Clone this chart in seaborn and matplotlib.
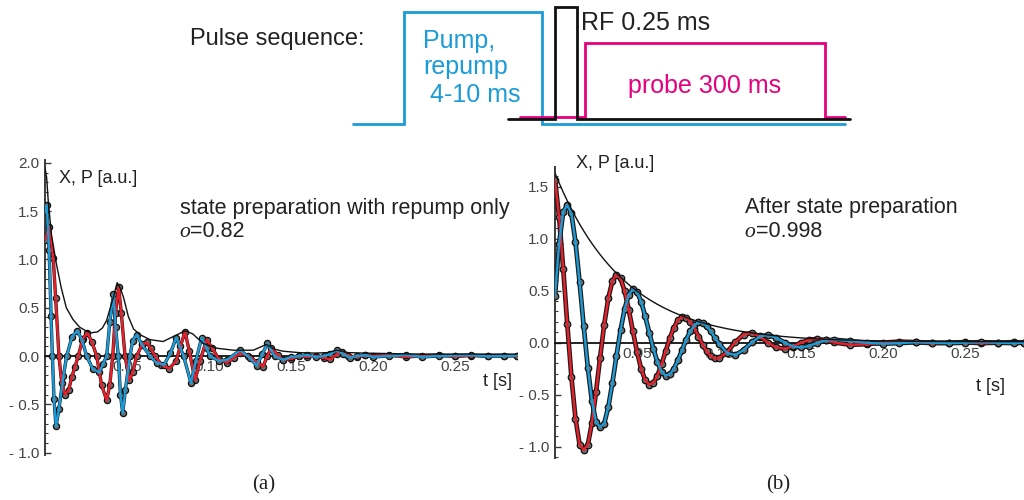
import numpy as np
import pandas as pd
import matplotlib
matplotlib.use("Agg")
import matplotlib.pyplot as plt
import seaborn as sns
from matplotlib.ticker import FuncFormatter, MultipleLocator

sns.set_theme(style="white")
plt.rcParams['font.family'] = ['Liberation Sans', 'DejaVu Sans']

# ---------------- data: panel (a) -- state preparation with repump only ----------------
tL_x = [0, 0.0025, 0.005, 0.0065, 0.0085, 0.0102, 0.0122, 0.0145, 0.0163, 0.0183,
        0.0203, 0.023, 0.0258, 0.0285, 0.0315, 0.0345, 0.0376, 0.0395, 0.0413, 0.043,
        0.0449, 0.0465, 0.0488, 0.0514, 0.0535, 0.0559, 0.059, 0.062, 0.0645, 0.067,
        0.071, 0.0758, 0.080, 0.0825, 0.0854, 0.088, 0.0915, 0.0945, 0.0986, 0.102,
        0.106, 0.111, 0.115, 0.119, 0.124, 0.129, 0.133, 0.1355, 0.138, 0.142,
        0.145, 0.15, 0.155, 0.16, 0.165, 0.17, 0.174, 0.178, 0.181, 0.185,
        0.19, 0.195, 0.20, 0.21, 0.22, 0.23, 0.24, 0.25, 0.26, 0.27, 0.28, 0.288]
xL = [1.2, 1.34, 1.02, 0.6, 0.0, -0.28, -0.40, -0.35, -0.22, -0.11,
      0.0, 0.18, 0.24, 0.15, 0.0, -0.30, -0.46, -0.30, 0.0, 0.45,
      0.71, 0.45, 0.0, -0.25, -0.17, 0.0, 0.11, 0.14, 0.08, 0.0,
      -0.09, -0.13, -0.05, 0.10, 0.25, 0.05, -0.25, -0.05, 0.17, 0.08,
      -0.03, -0.07, -0.02, 0.03, 0.0, -0.06, -0.11, 0.0, 0.08, 0.01,
      -0.04, -0.03, 0.0, -0.01, 0.0, -0.02, -0.035, 0.02, 0.04, 0.0,
      -0.01, 0.01, 0.0, 0.01, -0.01, 0.0, 0.01, -0.005, 0.005, 0.0, 0.005, 0.0]

tL_p = [0, 0.001, 0.0025, 0.0037, 0.0045, 0.0055, 0.0067, 0.0085, 0.0112, 0.0132,
        0.0165, 0.0197, 0.0225, 0.0254, 0.029, 0.0331, 0.0355, 0.0376, 0.0395, 0.0417,
        0.043, 0.0447, 0.046, 0.0474, 0.049, 0.0518, 0.0535, 0.0559, 0.059, 0.064,
        0.068, 0.0726, 0.0765, 0.080, 0.0845, 0.089, 0.092, 0.0955, 0.0985, 0.1006,
        0.106, 0.111, 0.119, 0.125, 0.129, 0.1325, 0.1356, 0.140, 0.145, 0.15,
        0.155, 0.16, 0.165, 0.17, 0.174, 0.178, 0.182, 0.186, 0.19, 0.195,
        0.20, 0.21, 0.22, 0.23, 0.24, 0.25, 0.26, 0.27, 0.28, 0.288]
pL = [1.5, 1.56, 1.1, 0.41, 0.0, -0.45, -0.73, -0.55, -0.21, 0.0,
      0.2, 0.26, 0.17, 0.0, -0.13, -0.17, -0.08, 0.0, 0.35, 0.64,
      0.3, 0.0, -0.4, -0.59, -0.35, 0.0, 0.16, 0.22, 0.12, 0.0,
      -0.07, -0.09, 0.03, 0.19, 0.0, -0.28, -0.05, 0.19, 0.08, 0.0,
      -0.05, -0.04, 0.06, -0.02, -0.10, 0.02, 0.13, 0.0, -0.04, -0.01,
      0.0, 0.01, -0.01, 0.0, 0.02, 0.06, 0.02, -0.02, 0.0, 0.01,
      -0.01, 0.0, 0.01, -0.01, 0.0, 0.005, 0.01, -0.005, 0.0, 0.005]

tL_e = [0, 0.001, 0.002, 0.004, 0.007, 0.010, 0.013, 0.017, 0.021, 0.025,
        0.028, 0.032, 0.035, 0.0376, 0.0417, 0.044, 0.046, 0.048, 0.0508, 0.054,
        0.058, 0.064, 0.072, 0.078, 0.0854, 0.090, 0.0965, 0.105, 0.115, 0.127,
        0.135, 0.140, 0.145, 0.155, 0.165, 0.172, 0.178, 0.185, 0.195, 0.21,
        0.23, 0.25, 0.27, 0.288]
eL = [1.95, 1.85, 1.6, 1.25, 0.95, 0.7, 0.5, 0.38, 0.30, 0.26,
      0.24, 0.25, 0.29, 0.37, 0.61, 0.76, 0.7, 0.6, 0.41, 0.28,
      0.22, 0.17, 0.15, 0.2, 0.26, 0.23, 0.13, 0.08, 0.06, 0.06,
      0.12, 0.07, 0.05, 0.035, 0.03, 0.035, 0.06, 0.035, 0.03, 0.025,
      0.02, 0.02, 0.02, 0.02]

# ---------------- data: panel (b) -- after state preparation ----------------
tR = [0.0, 0.0025, 0.005, 0.0075, 0.01, 0.0125, 0.015, 0.0175, 0.02, 0.0225,
      0.025, 0.0275, 0.03, 0.0325, 0.035, 0.0375, 0.04, 0.0425, 0.045, 0.0475,
      0.05, 0.0525, 0.055, 0.0575, 0.06, 0.0625, 0.065, 0.0675, 0.07, 0.0725,
      0.075, 0.0775, 0.08, 0.0825, 0.085, 0.0875, 0.09, 0.0925, 0.095, 0.0975,
      0.10, 0.105, 0.11, 0.115, 0.12, 0.125, 0.13, 0.135, 0.14, 0.145,
      0.15, 0.155, 0.16, 0.165, 0.17, 0.18, 0.19, 0.20, 0.21, 0.22,
      0.23, 0.24, 0.25, 0.26, 0.27, 0.28, 0.286]
xR = [1.566, 1.206, 0.713, 0.175, -0.329, -0.730, -0.980, -1.03, -0.983, -0.774,
      -0.476, -0.144, 0.173, 0.427, 0.593, 0.655, 0.617, 0.494, 0.315, 0.110,
      -0.087, -0.249, -0.359, -0.404, -0.386, -0.316, -0.207, -0.081, 0.042, 0.145,
      0.216, 0.248, 0.241, 0.200, 0.136, 0.059, -0.018, -0.083, -0.130, -0.152,
      -0.150, -0.089, 0.006, 0.078, 0.094, 0.058, -0.001, -0.046, -0.058, -0.037,
      -0.001, 0.027, 0.036, 0.024, 0.002, -0.02, -0.015, 0.0, 0.01, 0.005,
      -0.005, 0.0, 0.005, -0.005, 0.0, 0.005, 0.0]
pR = [0.450, 0.951, 1.259, 1.32, 1.243, 0.966, 0.581, 0.160, -0.239, -0.558,
      -0.763, -0.81, -0.779, -0.619, -0.387, -0.125, 0.123, 0.327, 0.461, 0.514,
      0.489, 0.395, 0.255, 0.095, -0.061, -0.188, -0.278, -0.317, -0.305, -0.251,
      -0.167, -0.070, 0.028, 0.110, 0.167, 0.194, 0.190, 0.160, 0.110, 0.049,
      -0.011, -0.100, -0.119, -0.071, 0.003, 0.060, 0.074, 0.046, 0.001, -0.036,
      -0.046, -0.030, -0.002, 0.021, 0.028, 0.015, 0.0, -0.01, -0.005, 0.005,
      0.0, -0.005, 0.0, 0.005, 0.0, -0.005, 0.0]
eR = [1.63, 1.536, 1.447, 1.364, 1.285, 1.210, 1.140, 1.0745, 1.012, 0.954,
      0.899, 0.847, 0.798, 0.752, 0.708, 0.6675, 0.629, 0.5927, 0.5584, 0.526,
      0.496, 0.467, 0.440, 0.4147, 0.3907, 0.368, 0.3467, 0.3267, 0.3079, 0.290,
      0.2733, 0.2575, 0.2426, 0.2286, 0.2154, 0.2030, 0.1912, 0.1802, 0.1698, 0.160,
      0.1508, 0.1338, 0.1188, 0.1055, 0.0936, 0.0831, 0.0738, 0.0655, 0.0582, 0.0516,
      0.0458, 0.0407, 0.0361, 0.0321, 0.0284, 0.024, 0.02, 0.017, 0.015, 0.013,
      0.012, 0.011, 0.01, 0.01, 0.01, 0.01, 0.01]

x_tick_vals = [0.05, 0.10, 0.15, 0.20, 0.25]
x_tick_labels = ["0.05", "0.10", "0.15", "0.20", "0.25"]
yticks_a = [-1.0, -0.5, 0.0, 0.5, 1.0, 1.5, 2.0]
yticks_b = [-1.0, -0.5, 0.0, 0.5, 1.0, 1.5]

RED = '#ea1f2a'
BLUE = '#1b9bd7'
MAG = '#e5007d'
TXT = '#222222'

fig = plt.figure(figsize=(10.24, 5.0), dpi=100)

# background overlay in pixel coordinates (y downward)
bg = fig.add_axes([0, 0, 1, 1])
bg.set_xlim(0, 1024)
bg.set_ylim(500, 0)
bg.axis('off')
bg.set_zorder(0)


def px_axes(x0, x1, ytop, ybot):
    return fig.add_axes([x0 / 1024, 1 - ybot / 500, (x1 - x0) / 1024, (ybot - ytop) / 500])


def yfmt(v, p):
    if v < -1e-9:
        return f"- {abs(v):.1f}"
    return f"{abs(v):.1f}"


def style(ax, xmax, ylo, yhi, yticks):
    ax.set_facecolor('none')
    ax.grid(False)
    ax.set_xlim(0, xmax)
    ax.set_ylim(ylo, yhi)
    for s in ['top', 'right']:
        ax.spines[s].set_visible(False)
    ax.spines['left'].set_color('#3a3a3a')
    ax.spines['left'].set_linewidth(1.4)
    ax.spines['bottom'].set_position(('data', 0))
    ax.spines['bottom'].set_color('#111111')
    ax.spines['bottom'].set_linewidth(1.3)
    ax.set_xticks(x_tick_vals)
    ax.set_xticklabels(x_tick_labels)
    ax.tick_params(axis='x', which='both', length=0, pad=3, labelsize=11, labelcolor='#444444', bottom=True)
    ax.set_yticks(yticks)
    ax.yaxis.set_major_formatter(FuncFormatter(yfmt))
    ax.yaxis.set_minor_locator(MultipleLocator(0.1))
    ax.tick_params(axis='y', which='major', direction='in', length=4, width=1.0, color='#3a3a3a',
                   labelsize=11, labelcolor='#444444', pad=4, left=True)
    ax.tick_params(axis='y', which='minor', direction='in', length=2.5, width=0.8, color='#3a3a3a', left=True)
    ax.set_xlabel('')
    ax.set_ylabel('')


def draw_panel(ax, tx, xv, tp, pv, te, ev, ms, band):
    # measured data points: dark band of dots under the fitted curves
    sns.lineplot(x=tx, y=xv, ax=ax, color='#1e1e1e', lw=band, sort=False, estimator=None, zorder=2.6)
    sns.lineplot(x=tp, y=pv, ax=ax, color='#1e1e1e', lw=band, sort=False, estimator=None, zorder=2.6)
    sns.scatterplot(x=tx, y=xv, ax=ax, s=ms, color='#6a6a6a', edgecolor='#111111',
                    linewidth=0.9, zorder=2.8, legend=False)
    sns.scatterplot(x=tp, y=pv, ax=ax, s=ms, color='#6a6a6a', edgecolor='#111111',
                    linewidth=0.9, zorder=2.8, legend=False)
    sns.lineplot(x=tx, y=xv, ax=ax, color=RED, lw=1.7, sort=False, estimator=None, zorder=4)
    sns.lineplot(x=tp, y=pv, ax=ax, color=BLUE, lw=1.7, sort=False, estimator=None, zorder=4)
    sns.lineplot(x=te, y=ev, ax=ax, color='#111111', lw=1.0, sort=False, estimator=None, zorder=5)


# panel (a)
axL = px_axes(45, 45 + 0.288 * 1640, 160.1, 455.4)
draw_panel(axL, tL_x, xL, tL_p, pL, tL_e, eL, 20, 2.4)
style(axL, 0.288, -1.03, 2.03, yticks_a)

# panel (b)
axR = px_axes(555, 1024, 166.9, 458.1)
draw_panel(axR, tR, xR, tR, pR, tR, eR, 22, 3.4)
style(axR, 0.286, -1.11, 1.69, yticks_b)

# ---------------- pulse sequence diagram ----------------
bg.plot([353, 404, 404, 542, 542, 845], [124, 124, 12, 12, 124, 124], color=BLUE, lw=2.0,
        solid_joinstyle='miter')
bg.plot([520, 585, 585, 825, 825, 845], [117, 117, 43, 43, 117, 117], color=MAG, lw=2.0,
        solid_joinstyle='miter')
bg.plot([508, 555, 555, 577, 577, 850], [119, 119, 7, 7, 119, 119], color='#111111', lw=2.0,
        solid_joinstyle='miter')

bg.text(190, 45, "Pulse sequence:", fontsize=17, color=TXT, va='baseline', ha='left')
bg.text(423, 48, "Pump,", fontsize=18, color=BLUE, va='baseline', ha='left')
bg.text(423, 74, "repump", fontsize=18, color=BLUE, va='baseline', ha='left')
bg.text(430, 102, "4-10 ms", fontsize=18, color=BLUE, va='baseline', ha='left')
bg.text(581, 30, "RF 0.25 ms", fontsize=18, color=TXT, va='baseline', ha='left')
bg.text(628, 93, "probe 300 ms", fontsize=18, color=MAG, va='baseline', ha='left')

# ---------------- panel annotations ----------------
bg.text(59, 183, "X, P [a.u.]", fontsize=13, color=TXT, va='baseline', ha='left')
bg.text(180, 214, "state preparation with repump only", fontsize=15.5, color=TXT, va='baseline')
bg.text(179, 237, "o", fontsize=15.5, color=TXT, va='baseline', family=['Liberation Serif'], style='italic')
bg.text(190, 237, "=0.82", fontsize=15.5, color=TXT, va='baseline')
bg.text(483, 386, "t [s]", fontsize=13, color=TXT, va='baseline')

bg.text(576, 168, "X, P [a.u.]", fontsize=13, color=TXT, va='baseline', ha='left')
bg.text(745, 213, "After state preparation", fontsize=15.5, color=TXT, va='baseline')
bg.text(744, 237, "o", fontsize=15.5, color=TXT, va='baseline', family=['Liberation Serif'], style='italic')
bg.text(756, 237, "=0.998", fontsize=15.5, color=TXT, va='baseline')
bg.text(976, 391, "t [s]", fontsize=13, color=TXT, va='baseline')

bg.text(264, 485, "(a)", fontsize=15, color=TXT, va='center', ha='center', family=['Liberation Serif'])
bg.text(778, 485, "(b)", fontsize=15, color=TXT, va='center', ha='center', family=['Liberation Serif'])

fig.savefig("out.png", dpi=100, facecolor='white')
